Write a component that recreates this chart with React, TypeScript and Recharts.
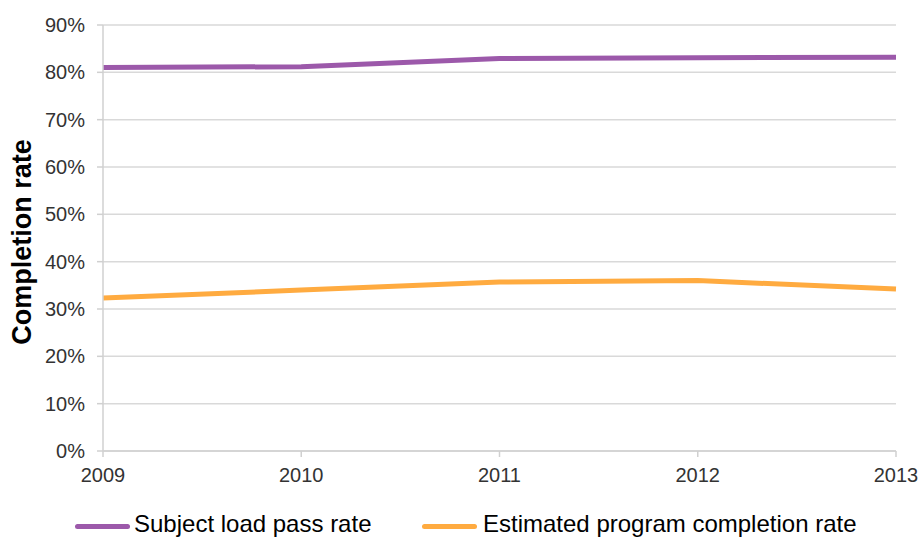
import { CartesianGrid, Line, LineChart, XAxis, YAxis } from 'recharts';

const years = ['2009', '2010', '2011', '2012', '2013'];
const passRate = [81.0, 81.2, 82.9, 83.1, 83.2];
const programRate = [32.3, 34.0, 35.7, 36.0, 34.2];
const yTicks = [0, 10, 20, 30, 40, 50, 60, 70, 80, 90];

const PURPLE = '#9c59aa';
const ORANGE = '#ffab40';
const FONT = '"Liberation Sans", Arial, sans-serif';

const data = years.map((year, i) => ({ year, pass: passRate[i], program: programRate[i] }));

function YLabel() {
  return (
    <text
      x={31}
      y={242}
      transform="rotate(-90 31 242)"
      textAnchor="middle"
      fontSize={27}
      fontWeight="bold"
      fill="#000"
      fontFamily={FONT}
    >
      Completion rate
    </text>
  );
}

function LegendItem({ color, label, left, textLeft }: { color: string; label: string; left: number; textLeft: number }) {
  return (
    <>
      <div
        style={{
          position: 'absolute',
          left,
          top: 524,
          width: 55,
          height: 5,
          borderRadius: 3,
          background: color,
        }}
      />
      <div
        style={{
          position: 'absolute',
          left: textLeft,
          top: 510,
          fontSize: 24,
          lineHeight: '28px',
          fontFamily: FONT,
          color: '#000',
          whiteSpace: 'nowrap',
        }}
      >
        {label}
      </div>
    </>
  );
}

export default function App() {
  return (
    <div style={{ position: 'absolute', left: 0, top: 0, width: 920, height: 538, overflow: 'hidden', background: '#fff' }}>
      <LineChart width={920} height={538} data={data} margin={{ top: 25, right: 24, bottom: 57, left: 0 }}>
        <CartesianGrid vertical={false} stroke="#d9d9d9" strokeWidth={1.5} />
        <XAxis
          dataKey="year"
          height={30}
          tick={{ fill: '#333', fontSize: 20, fontFamily: FONT }}
          tickLine={{ stroke: '#d0d0d0', strokeWidth: 1.5 }}
          axisLine={{ stroke: '#d0d0d0', strokeWidth: 1.5 }}
          tickSize={6}
          tickMargin={11}
          interval={0}
        />
        <YAxis
          width={103}
          type="number"
          domain={[0, 90]}
          ticks={yTicks}
          tickFormatter={(v: number) => `${v}%`}
          tick={{ fill: '#333', fontSize: 20, fontFamily: FONT }}
          tickLine={{ stroke: '#d0d0d0', strokeWidth: 1.5 }}
          axisLine={{ stroke: '#d0d0d0', strokeWidth: 1.5 }}
          tickSize={6}
          tickMargin={12}
          interval={0}
          label={{ content: () => <YLabel /> }}
        />
        <Line
          type="linear"
          dataKey="pass"
          stroke={PURPLE}
          strokeWidth={5}
          dot={false}
          activeDot={false}
          isAnimationActive={false}
        />
        <Line
          type="linear"
          dataKey="program"
          stroke={ORANGE}
          strokeWidth={5}
          dot={false}
          activeDot={false}
          isAnimationActive={false}
        />
      </LineChart>
      <LegendItem color={PURPLE} label="Subject load pass rate" left={75} textLeft={134} />
      <LegendItem color={ORANGE} label="Estimated program completion rate" left={422} textLeft={483} />
    </div>
  );
}
